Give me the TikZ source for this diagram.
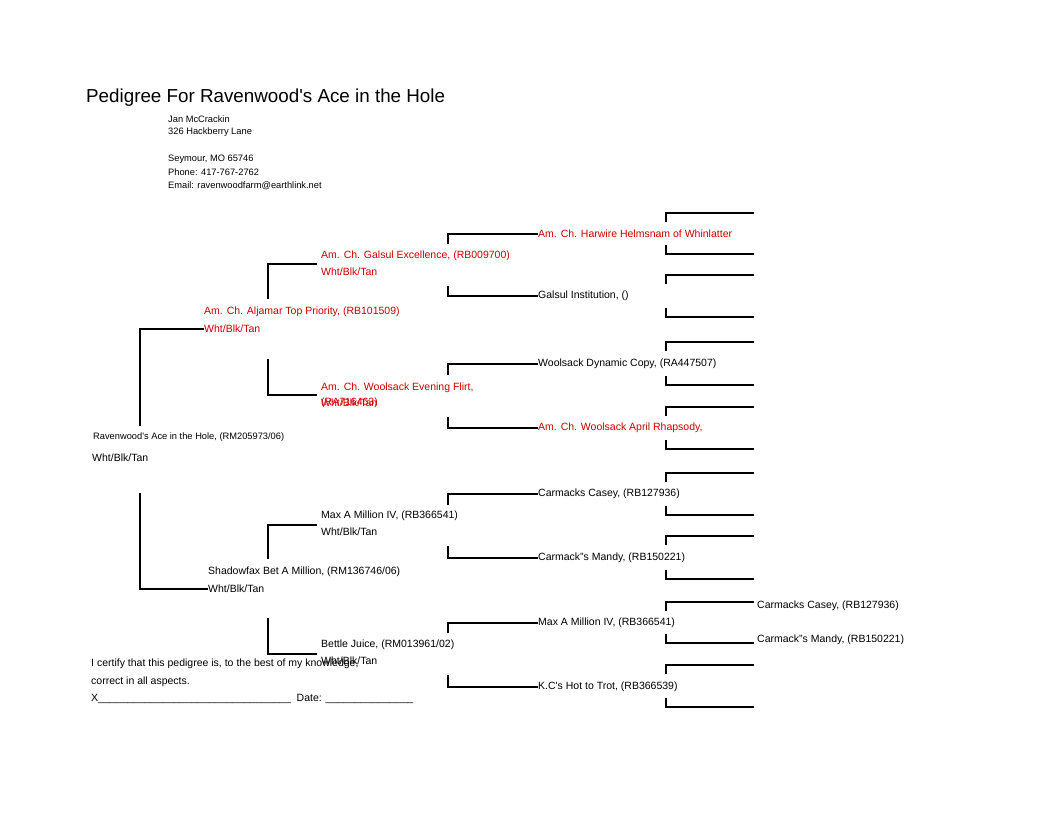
\documentclass[tikz,border=0pt]{standalone}
\usepackage{fontspec}
\setmainfont{Liberation Sans}
\usepackage{xcolor}
\usepackage{tikz}

\definecolor{champred}{RGB}{204,0,0}
\newcommand{\blanks}[1]{\foreach \k in {1,...,#1}{\_}}
\newcommand{\q}{\textquotesingle}

\begin{document}
\begin{tikzpicture}[
    x=1pt, y=-1pt,
    every node/.style={anchor=west, inner sep=0pt, yshift=-1pt, font=\fontsize{10.5}{12}\selectfont},
    small/.style={font=\fontsize{9.3}{11}\selectfont},
    champ/.style={text=champred},
    bracket/.style={draw, line width=1.8pt}
]
\useasboundingbox (0,0) rectangle (1052,815);

% heading
\node[font=\fontsize{18.8}{22}\selectfont] (title) at (86,97) {Pedigree For Ravenwood\q s Ace in the Hole};
\node[small] (owner) at (168,118) {Jan McCrackin};
\node[small] (street) at (168,131) {326 Hackberry Lane};
\node[small] (city) at (168,158) {Seymour, MO 65746};
\node[small] (phone) at (168,171) {Phone: 417-767-2762};
\node[small] (email) at (168,185) {Email: ravenwoodfarm@earthlink.net};

% dog
\node[small] (dog) at (93,436) {Ravenwood\q s Ace in the Hole, (RM205973/06)};
\node (dogc) at (92,457) {Wht/Blk/Tan};

% parents
\node[champ] (s) at (204,311) {Am. Ch. Aljamar Top Priority, (RB101509)};
\node[champ] (sc) at (204,328) {Wht/Blk/Tan};
\node (d) at (208,571) {Shadowfax Bet A Million, (RM136746/06)};
\node (dc) at (208,588) {Wht/Blk/Tan};

% grandparents
\node[champ] (ss) at (321,255) {Am. Ch. Galsul Excellence, (RB009700)};
\node[champ] (ssc) at (321,271) {Wht/Blk/Tan};
\node[champ] (sd) at (321,387) {Am. Ch. Woolsack Evening Flirt,};
\node[champ] (sdr) at (321,402) {(RA716463)};
\node[champ] (sdc) at (321,402) {Wht/Blk/Tan};
\node (ds) at (321,515) {Max A Million IV, (RB366541)};
\node (dsc) at (321,531) {Wht/Blk/Tan};
\node (dd) at (321,644) {Bettle Juice, (RM013961/02)};
\node (ddc) at (321,660) {Wht/Blk/Tan};

% great-grandparents
\node[champ] (sss) at (538,233) {Am. Ch. Harwire Helmsnam of Whinlatter};
\node (ssd) at (538,295) {Galsul Institution, ()};
\node (sds) at (538,363) {Woolsack Dynamic Copy, (RA447507)};
\node[champ] (sdd) at (538,427) {Am. Ch. Woolsack April Rhapsody,};
\node (dss) at (538,493) {Carmacks Casey, (RB127936)};
\node (dsd) at (538,557) {Carmack"s Mandy, (RB150221)};
\node (dds) at (538,622) {Max A Million IV, (RB366541)};
\node (ddd) at (538,686) {K.C\q s Hot to Trot, (RB366539)};

% fourth generation
\node (ddss) at (757,605) {Carmacks Casey, (RB127936)};
\node (ddsd) at (757,639) {Carmack"s Mandy, (RB150221)};

% certification
\node (cert) at (91,663) {I certify that this pedigree is, to the best of my knowledge,};
\node (cert2) at (91,681) {correct in all aspects.};
\node (sign) at (91,698) {X\blanks{33}\ \ Date: \blanks{15}};

% brackets
\draw[bracket] (140,426) |- (sc.west);
\draw[bracket] (140,493) |- (dc.west);

\coordinate (ssj) at (317,263);
\coordinate (sdj) at (317,394);
\coordinate (dsj) at (317,524);
\coordinate (ddj) at (317,653);
\draw[bracket] (268,299) |- (ssj);
\draw[bracket] (268,359) |- (sdj);
\draw[bracket] (268,559) |- (dsj);
\draw[bracket] (268,618) |- (ddj);

\draw[bracket] (448,244) |- (sss.west);
\draw[bracket] (448,286) |- (ssd.west);
\draw[bracket] (448,375) |- (sds.west);
\draw[bracket] (448,417) |- (sdd.west);
\draw[bracket] (448,505) |- (dss.west);
\draw[bracket] (448,546) |- (dsd.west);
\draw[bracket] (448,633) |- (dds.west);
\draw[bracket] (448,675) |- (ddd.west);

\foreach \t/\b in {213/254, 275/317, 342/385, 407/449, 473/515, 536/579, 602/643, 665/707} {
  \draw[bracket] (666,\t+9) |- (754,\t);
  \draw[bracket] (666,\b-9) |- (754,\b);
}
\end{tikzpicture}
\end{document}
